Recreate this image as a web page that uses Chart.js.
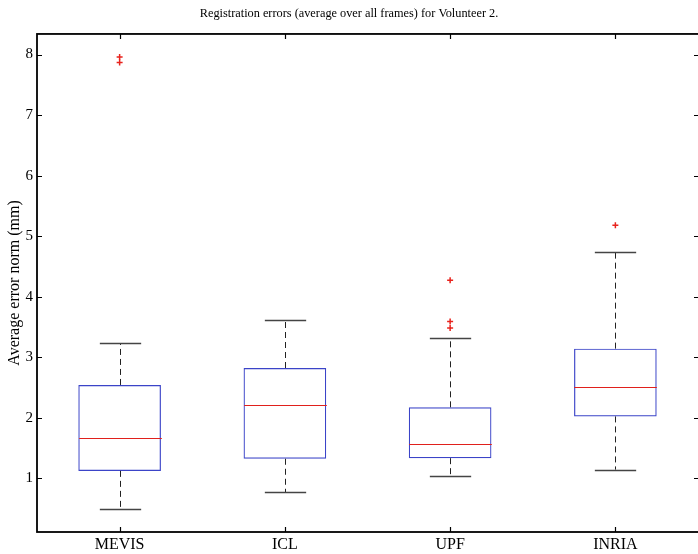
<!DOCTYPE html>
<html>
<head>
<meta charset="utf-8">
<script src="https://cdn.jsdelivr.net/npm/chart.js@4"></script>
<style>
  html, body { margin: 0; padding: 0; background: #fff; }
  #wrap { width: 698px; height: 554px; }
</style>
</head>
<body>
<div id="wrap"><canvas id="grafico" width="698" height="554"></canvas></div>
<script>
// dados
const categorias = ['MEVIS', 'ICL', 'UPF', 'INRIA'];
const bigodeInf = [0.49, 0.77, 1.04, 1.14];
const quartil1 = [1.12, 1.32, 1.33, 2.02];
const medianas = [1.67, 2.21, 1.57, 2.50];
const quartil3 = [2.54, 2.82, 2.17, 3.14];
const bigodeSup = [3.23, 3.61, 3.31, 4.73];
const outliers = [[7.96, 7.87], [], [4.27, 3.59, 3.48], [5.18]];
const yTicks = [1, 2, 3, 4, 5, 6, 7, 8];

const fonte = "'Liberation Serif', 'Times New Roman', serif";

const pontosOutliers = [];
outliers.forEach((lista, i) => {
    lista.forEach(v => pontosOutliers.push({ x: categorias[i], y: v }));
});

// desenha bigodes, medianas, moldura e marcas internas
const boxPlugin = {
    id: 'boxExtras',
    afterDatasetsDraw(chart) {
        const ctx = chart.ctx;
        const x = chart.scales.x;
        const y = chart.scales.y;
        const area = chart.chartArea;
        const barras = chart.getDatasetMeta(0).data;

        ctx.save();
        categorias.forEach((c, i) => {
            const cx = Math.round(x.getPixelForValue(i)) + 0.5;
            const w = barras[i].width;
            const capW = w / 2;

            // bigodes tracejados
            ctx.strokeStyle = '#222';
            ctx.lineWidth = 1;
            ctx.setLineDash([6, 4]);
            ctx.beginPath();
            ctx.moveTo(cx, y.getPixelForValue(quartil3[i]));
            ctx.lineTo(cx, y.getPixelForValue(bigodeSup[i]));
            ctx.moveTo(cx, y.getPixelForValue(quartil1[i]));
            ctx.lineTo(cx, y.getPixelForValue(bigodeInf[i]));
            ctx.stroke();
            ctx.setLineDash([]);

            // extremidades
            ctx.strokeStyle = '#444';
            ctx.lineWidth = 1.4;
            ctx.beginPath();
            const yS = Math.round(y.getPixelForValue(bigodeSup[i])) + 0.5;
            const yI = Math.round(y.getPixelForValue(bigodeInf[i])) + 0.5;
            ctx.moveTo(cx - capW / 2, yS);
            ctx.lineTo(cx + capW / 2, yS);
            ctx.moveTo(cx - capW / 2, yI);
            ctx.lineTo(cx + capW / 2, yI);
            ctx.stroke();

            // mediana
            ctx.strokeStyle = '#e0201c';
            ctx.lineWidth = 1;
            const yM = Math.round(y.getPixelForValue(medianas[i])) + 0.5;
            ctx.beginPath();
            ctx.moveTo(cx - w / 2, yM);
            ctx.lineTo(cx + w / 2, yM);
            ctx.stroke();
        });

        // moldura
        ctx.strokeStyle = '#000';
        ctx.lineWidth = 1.8;
        ctx.strokeRect(area.left, area.top, area.right - area.left + 2, area.bottom - area.top);

        // marcas para dentro
        ctx.lineWidth = 1.2;
        ctx.beginPath();
        yTicks.forEach(v => {
            const py = Math.round(y.getPixelForValue(v)) + 0.5;
            ctx.moveTo(area.left, py);
            ctx.lineTo(area.left + 5, py);
            ctx.moveTo(area.right, py);
            ctx.lineTo(area.right - 4, py);
        });
        categorias.forEach((c, i) => {
            const px = Math.round(x.getPixelForValue(i)) + 0.5;
            ctx.moveTo(px, area.top);
            ctx.lineTo(px, area.top + 5);
            ctx.moveTo(px, area.bottom);
            ctx.lineTo(px, area.bottom - 5);
        });
        ctx.stroke();
        ctx.restore();
    }
};

const dados = {
    labels: categorias,
    datasets: [{
        type: 'bar',
        label: 'caixas',
        data: categorias.map((c, i) => [quartil1[i], quartil3[i]]),
        backgroundColor: 'rgba(0,0,0,0)',
        borderColor: '#3b44c8',
        borderWidth: 1.2,
        borderSkipped: false,
        barPercentage: 0.5,
        categoryPercentage: 1.0
    }, {
        type: 'line',
        label: 'outliers',
        data: pontosOutliers,
        showLine: false,
        pointStyle: 'cross',
        pointRadius: 3,
        pointBorderWidth: 1.5,
        pointBorderColor: '#e8231d',
        pointBackgroundColor: '#e8231d'
    }]
};

const config = {
    type: 'bar',
    data: dados,
    plugins: [boxPlugin],
    options: {
        responsive: false,
        animation: false,
        layout: { autoPadding: false, padding: 0 },
        plugins: {
            legend: { display: false },
            tooltip: { enabled: false },
            title: {
                display: true,
                text: 'Registration errors (average over all frames) for Volunteer 2.',
                color: '#000',
                font: { family: fonte, size: 12.3, weight: 'normal' },
                padding: { top: 6.6, bottom: 12.6 }
            }
        },
        scales: {
            x: {
                offset: true,
                grid: { display: false, drawTicks: false },
                border: { display: false },
                ticks: { color: '#000', font: { family: fonte, size: 16 }, padding: 3 },
                afterFit: (s) => { s.height = 22; s.paddingLeft = 0; s.paddingRight = 0; }
            },
            y: {
                min: 0.11,
                max: 8.34,
                grid: { display: false, drawTicks: false },
                border: { display: false },
                ticks: { color: '#000', font: { family: fonte, size: 15 }, padding: 4 },
                afterBuildTicks: (s) => { s.ticks = yTicks.map(v => ({ value: v })); },
                afterFit: (s) => { s.width = 37; },
                title: {
                    display: true,
                    text: 'Average error norm (mm)',
                    color: '#000',
                    font: { family: fonte, size: 16 },
                    padding: { top: 5, bottom: 0 }
                }
            }
        }
    }
};

const ctx = document.getElementById('grafico').getContext('2d');
const grafico = new Chart(ctx, config);
</script>
</body>
</html>
